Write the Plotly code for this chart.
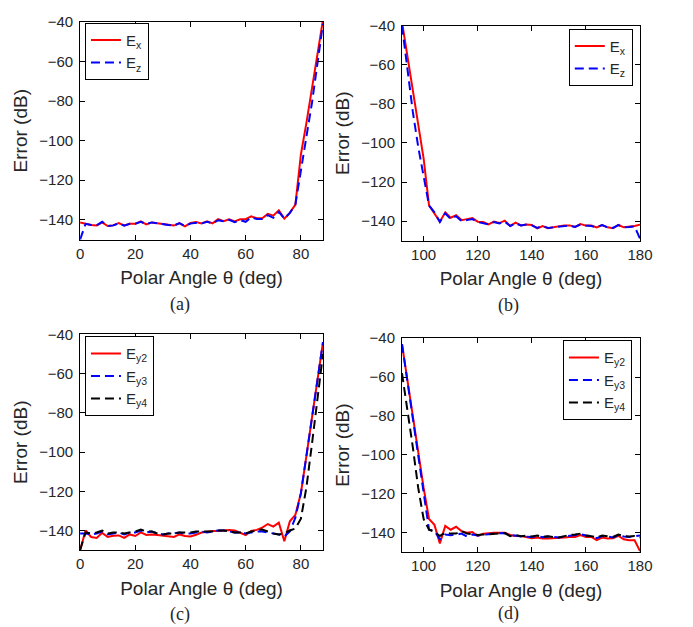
import plotly.graph_objects as go

# ---------------- data ----------------
theta_lo = list(range(0, 89, 2))     # 0..88
theta_hi = list(range(92, 181, 2))   # 92..180

a_Ex = [-141.3, -142.1, -142.6, -142.8, -141.3, -143.1, -142.8, -141.6, -142.8, -142.0,
        -142.0, -140.8, -142.3, -141.3, -141.8, -142.3, -142.5, -142.9, -141.8, -143.3,
        -141.6, -141.1, -141.8, -140.8, -141.8, -139.7, -140.7, -139.7, -140.8, -139.7,
        -139.7, -138.2, -139.2, -139.2, -137.0, -137.9, -135.2, -139.4, -136.5, -132.3,
        -107.0, -91.0, -74.0, -57.0, -39.0]
a_Ez = [-150.0, -142.0, -142.6, -142.8, -141.0, -143.1, -142.8, -141.8, -142.9, -142.0,
        -142.0, -141.0, -142.2, -141.3, -141.8, -142.3, -142.6, -142.9, -141.6, -143.2,
        -141.9, -141.5, -141.8, -141.0, -141.8, -140.2, -140.7, -140.0, -141.2, -140.2,
        -141.0, -138.8, -139.6, -139.6, -137.6, -139.0, -136.0, -139.4, -136.5, -132.3,
        -116.0, -98.0, -81.0, -62.0, -41.0]

b_Ex = [-38.0, -55.0, -73.0, -90.0, -108.0, -132.0, -136.0, -140.3, -135.5, -138.3,
        -137.0, -139.5, -139.0, -138.5, -140.3, -140.5, -141.7, -140.3, -141.0, -139.8,
        -142.5, -140.8, -142.2, -141.7, -142.0, -143.7, -142.5, -143.7, -143.2, -142.7,
        -142.2, -142.2, -143.0, -141.5, -142.3, -142.3, -143.2, -142.0, -143.2, -143.7,
        -142.0, -143.2, -143.0, -142.5, -141.8]
b_Ez = [-40.0, -61.0, -84.0, -102.0, -118.0, -132.0, -135.5, -140.5, -136.0, -139.0,
        -137.5, -140.0, -139.5, -139.0, -140.5, -141.0, -141.7, -140.5, -141.2, -140.3,
        -142.5, -141.2, -142.2, -141.7, -142.2, -143.5, -142.5, -143.5, -143.2, -142.7,
        -142.3, -142.3, -143.0, -141.7, -142.3, -142.5, -143.2, -142.0, -143.2, -143.5,
        -142.0, -143.2, -143.0, -142.7, -149.0]

c_Ey2 = [-150.0, -140.0, -143.3, -143.8, -141.2, -143.3, -142.7, -142.5, -143.8, -142.0,
         -142.8, -141.0, -142.3, -142.0, -142.3, -142.7, -142.8, -143.3, -142.0, -142.8,
         -143.0, -142.2, -141.0, -140.5, -140.3, -140.3, -140.0, -139.7, -140.0, -141.0,
         -142.3, -140.2, -139.7, -138.5, -136.7, -138.0, -136.0, -145.5, -135.3, -132.0,
         -121.0, -102.0, -82.0, -63.0, -44.0]
c_Ey3 = [-141.5, -141.5, -142.0, -141.5, -140.5, -142.0, -141.5, -141.0, -142.0, -141.0,
         -141.0, -140.0, -141.0, -140.5, -141.5, -142.0, -141.5, -141.5, -141.0, -141.5,
         -141.5, -141.0, -140.5, -141.0, -140.5, -140.0, -140.0, -140.5, -141.0, -141.0,
         -141.5, -141.0, -140.5, -140.5, -141.0, -141.5, -142.0, -143.0, -140.5, -133.5,
         -121.0, -102.0, -82.0, -63.0, -44.0]
c_Ey4 = [-150.0, -141.0, -141.5, -141.0, -140.0, -141.5, -141.0, -141.0, -141.5, -141.0,
         -140.5, -139.5, -140.5, -140.5, -141.5, -142.0, -141.5, -141.5, -141.0, -141.0,
         -141.0, -140.5, -140.5, -140.5, -140.5, -140.0, -140.0, -140.5, -141.0, -141.0,
         -141.5, -140.5, -140.0, -139.5, -140.5, -141.5, -142.0, -141.5, -140.0, -139.0,
         -134.0, -118.0, -96.0, -72.0, -50.0]

d_Ey2 = [-43.0, -62.0, -80.0, -98.0, -117.0, -133.0, -136.0, -145.5, -136.5, -138.5,
         -137.0, -139.2, -140.0, -139.7, -141.7, -140.5, -140.2, -140.0, -140.0, -140.0,
         -141.2, -141.7, -141.7, -142.5, -142.9, -142.5, -143.0, -143.0, -142.9, -142.5,
         -142.5, -142.2, -142.2, -141.2, -142.2, -142.2, -143.9, -142.5, -143.0, -142.9,
         -141.7, -143.4, -143.9, -143.9, -149.5]
d_Ey3 = [-43.0, -62.0, -80.0, -98.0, -117.0, -138.5, -139.0, -143.5, -141.0, -141.3,
         -141.0, -140.5, -142.0, -141.0, -141.5, -141.0, -140.8, -140.5, -140.5, -140.2,
         -141.5, -141.5, -142.0, -142.0, -142.2, -141.8, -142.3, -142.0, -142.3, -142.5,
         -142.0, -141.7, -141.2, -140.8, -141.5, -141.8, -142.8, -141.8, -142.0, -142.5,
         -141.3, -142.0, -142.3, -142.0, -141.5]
d_Ey4 = [-58.0, -76.0, -96.0, -117.0, -133.0, -138.5, -139.5, -141.7, -140.0, -140.5,
         -140.5, -139.2, -140.5, -140.7, -141.2, -141.0, -140.8, -140.5, -140.3, -140.2,
         -141.8, -141.2, -141.8, -141.5, -142.0, -141.5, -142.2, -141.8, -142.3, -142.5,
         -141.8, -141.2, -141.0, -140.5, -141.5, -141.8, -142.5, -141.5, -141.8, -142.2,
         -141.0, -141.8, -142.0, -141.7, -142.5]

y_ticks = [-140, -120, -100, -80, -60, -40]
x_ticks_lo = [0, 20, 40, 60, 80]
x_ticks_hi = [100, 120, 140, 160, 180]
captions = ["(a)", "(b)", "(c)", "(d)"]

# ---------------- figure ----------------
W, H = 693, 627
RED = "#ff0000"
BLUE = "#0000ff"
BLACK = "#000000"
TXT = "#262626"
SANS = "Liberation Sans, Arial, Helvetica, sans-serif"
SERIF = "Liberation Serif, Times New Roman, serif"
DASH = "9px,5px"

fig = go.Figure()

def add(x, y, name, color, dash, xa, ya, leg):
    fig.add_trace(go.Scatter(
        x=x, y=y, name=name, mode="lines",
        line=dict(color=color, width=2, dash=dash),
        xaxis=xa, yaxis=ya, legend=leg))

add(theta_lo, a_Ex, "E<sub>x</sub>", RED, "solid", "x", "y", "legend")
add(theta_lo, a_Ez, "E<sub>z</sub>", BLUE, DASH, "x", "y", "legend")
add(theta_hi, b_Ex, "E<sub>x</sub>", RED, "solid", "x2", "y2", "legend2")
add(theta_hi, b_Ez, "E<sub>z</sub>", BLUE, DASH, "x2", "y2", "legend2")
add(theta_lo, c_Ey2, "E<sub>y2</sub>", RED, "solid", "x3", "y3", "legend3")
add(theta_lo, c_Ey3, "E<sub>y3</sub>", BLUE, DASH, "x3", "y3", "legend3")
add(theta_lo, c_Ey4, "E<sub>y4</sub>", BLACK, DASH, "x3", "y3", "legend3")
add(theta_hi, d_Ey2, "E<sub>y2</sub>", RED, "solid", "x4", "y4", "legend4")
add(theta_hi, d_Ey3, "E<sub>y3</sub>", BLUE, DASH, "x4", "y4", "legend4")
add(theta_hi, d_Ey4, "E<sub>y4</sub>", BLACK, DASH, "x4", "y4", "legend4")

# pixel boxes: (left, right, top, bottom)
boxes = [(78, 327, 13, 234), (408, 652, 17, 235), (78, 327, 330, 549), (408, 652, 334, 551)]
xr = [[0, 88], [92, 180], [0, 88], [92, 180]]
xt = [x_ticks_lo, x_ticks_hi, x_ticks_lo, x_ticks_hi]

axis_common = dict(showline=True, linecolor="black", linewidth=1, mirror="ticks",
                   ticks="inside", ticklen=5, tickcolor="black", showgrid=False,
                   zeroline=False, tickfont=dict(family=SANS, size=15, color=TXT))
layout = dict(width=W, height=H, margin=dict(l=0, r=0, t=0, b=0),
              paper_bgcolor="white", plot_bgcolor="white", showlegend=True)

for i, (l, r, t, b) in enumerate(boxes):
    sx = "" if i == 0 else str(i + 1)
    layout["xaxis" + sx] = dict(axis_common, domain=[l / W, r / W], range=xr[i],
                                tickvals=xt[i], anchor="y" + sx, ticklabelstandoff=0,
                                title=dict(text="Polar Angle θ (deg)", standoff=10,
                                           font=dict(family=SANS, size=19, color=TXT)))
    layout["yaxis" + sx] = dict(axis_common, domain=[1 - b / H, 1 - t / H], range=[-150, -40],
                                tickvals=y_ticks, anchor="x" + sx, ticklabelstandoff=3,
                                title=dict(text="Error (dB)", standoff=6,
                                           font=dict(family=SANS, size=19, color=TXT)))

legpos = [(83, 14), (579, 20), (83, 332), (573, 336)]
for i, (lx, ly) in enumerate(legpos):
    key = "legend" if i == 0 else "legend" + str(i + 1)
    layout[key] = dict(x=lx / W, y=1 - ly / H, xanchor="left", yanchor="top",
                       bordercolor="black", borderwidth=1, bgcolor="white",
                       font=dict(family=SANS, size=15, color=TXT),
                       tracegroupgap=0, itemwidth=30)

cap_pos = [(180, 300), (517, 301), (180, 614), (517, 613)]
layout["annotations"] = [dict(text=c, x=px / W, y=1 - py / H, xref="paper", yref="paper",
                              xanchor="center", yanchor="middle", showarrow=False,
                              font=dict(family=SERIF, size=18, color=TXT))
                         for c, (px, py) in zip(captions, cap_pos)]

fig.update_layout(**layout)
fig.write_html("out.html")
